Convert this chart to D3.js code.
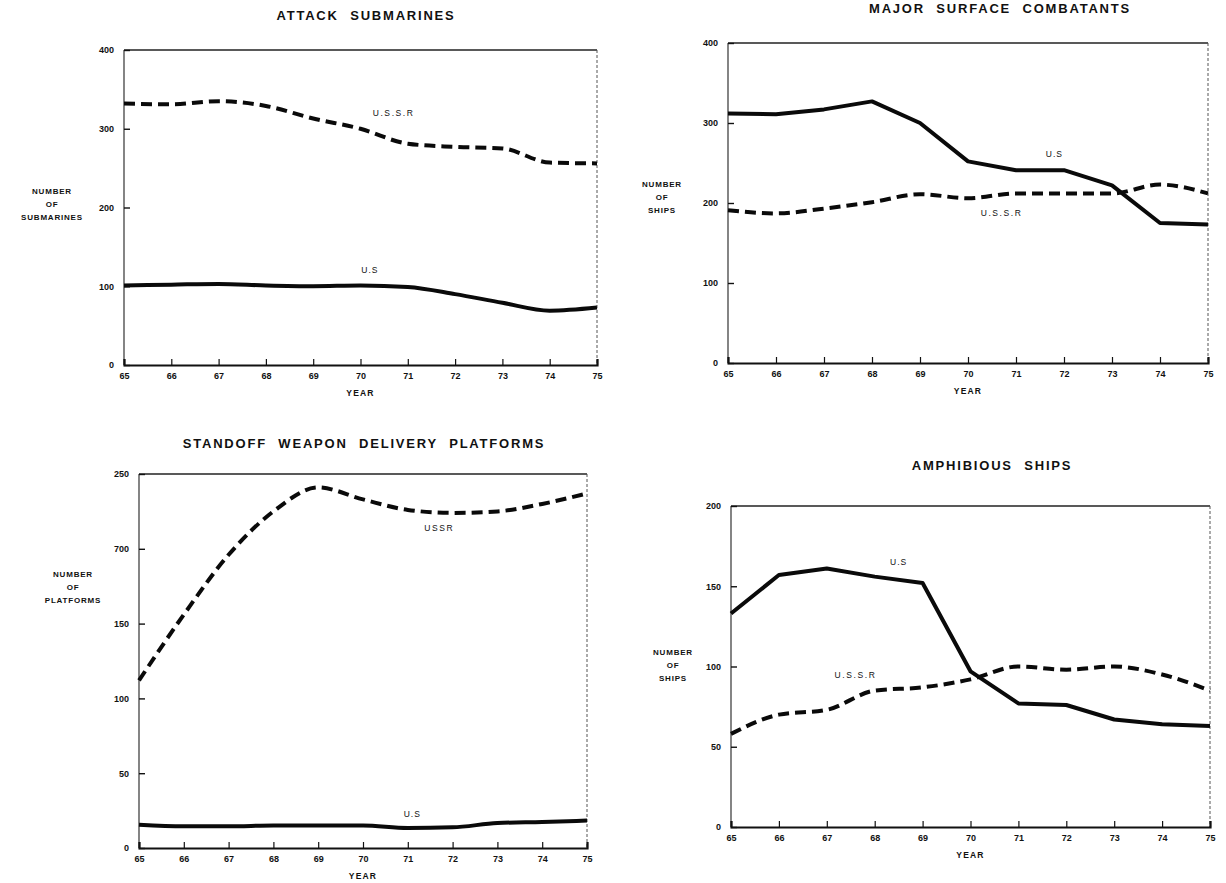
<!DOCTYPE html>
<html><head><meta charset="utf-8">
<script src="https://cdn.jsdelivr.net/npm/d3@7"></script>
<style>
body{margin:0;background:#fff;}
svg text{font-family:"Liberation Sans",Arial,sans-serif;fill:#111;}
</style></head>
<body><svg id="c" width="1226" height="883"></svg>
<script>
const years = [65,66,67,68,69,70,71,72,73,74,75];

const subTitle = "ATTACK SUBMARINES";
const subUS   = [101,102,103,101,100,101,99,90,79,69,73];
const subUSSR = [332,331,335,329,313,300,281,277,275,257,256];
const subTicks = [0,100,200,300,400];

const surfTitle = "MAJOR SURFACE COMBATANTS";
const surfUS   = [312,311,317,327,300,252,241,241,222,175,173];
const surfUSSR = [191,187,193,201,211,206,212,212,212,223,212];
const surfTicks = [0,100,200,300,400];

const sowTitle = "STANDOFF WEAPON DELIVERY PLATFORMS";
const sowUS   = [15.6,14.5,14.5,15,15,15,13.4,13.8,16.7,17.4,18.3];
const sowUSSR = [112,156,196,225,241,233,226,224,225,230,237];
const sowTicks = [0,50,100,150,200,250];
const sowTickLabels = ["0","50","100","150","700","250"];

const amphTitle = "AMPHIBIOUS SHIPS";
const amphUS   = [133,157,161,156,152,97,77,76,67,64,63];
const amphUSSR = [58,70,73,85,87,92,100,98,100,95,85];
const amphTicks = [0,50,100,150,200];

const svg = d3.select("#c");

function panel(cfg){
  const g = svg.append("g");
  const x = d3.scaleLinear().domain([65,75]).range([cfg.x0,cfg.x1]);
  const y = d3.scaleLinear().domain([0,cfg.ymax]).range([cfg.y0,cfg.y1]);
  // frame
  g.append("line").attr("x1",cfg.x0).attr("x2",cfg.x1).attr("y1",cfg.y1).attr("y2",cfg.y1)
    .attr("stroke","#222").attr("stroke-width",1.3);
  g.append("line").attr("x1",cfg.x1).attr("x2",cfg.x1).attr("y1",cfg.y1).attr("y2",cfg.y0)
    .attr("stroke","#555").attr("stroke-width",1).attr("stroke-dasharray","3,2");
  g.append("line").attr("x1",cfg.x0).attr("x2",cfg.x0).attr("y1",cfg.y1).attr("y2",cfg.y0)
    .attr("stroke","#333").attr("stroke-width",1.2);
  // axes
  const yAxis = d3.axisLeft(y).tickValues(cfg.ticks).tickSize(-6).tickPadding(10)
    .tickFormat((d,i)=> cfg.tickLabels ? cfg.tickLabels[i] : d);
  const ya = g.append("g").attr("transform",`translate(${cfg.x0},0)`).call(yAxis);
  ya.select(".domain").remove();
  ya.selectAll("line").attr("stroke","#111").attr("stroke-width",1.4);
  ya.selectAll("text").attr("font-size",9).attr("font-weight","bold").attr("fill","#111");
  const xAxis = d3.axisBottom(x).tickValues(years).tickSize(-6).tickPadding(8);
  const xa = g.append("g").attr("transform",`translate(0,${cfg.y0})`).call(xAxis);
  xa.select(".domain").attr("stroke","#111").attr("stroke-width",2.2);
  xa.selectAll("line").attr("stroke","#111").attr("stroke-width",1.2);
  xa.selectAll("text").attr("font-size",9).attr("font-weight","bold").attr("fill","#111");
  // title
  g.append("text").attr("x",cfg.tx).attr("y",cfg.ty).attr("text-anchor","middle")
    .attr("font-size",13).attr("font-weight","bold").attr("letter-spacing",1.8)
    .attr("word-spacing",6).text(cfg.title);
  // x title
  g.append("text").attr("x",(cfg.x0+cfg.x1)/2).attr("y",cfg.y0+31).attr("text-anchor","middle")
    .attr("font-size",8.5).attr("font-weight","bold").attr("letter-spacing",1.2).text("YEAR");
  // y title
  const yt = g.append("text").attr("text-anchor","middle").attr("font-size",8)
    .attr("letter-spacing",0.8).attr("font-weight","bold");
  cfg.ylab.forEach((s,i)=> yt.append("tspan").attr("x",cfg.ylx).attr("y",cfg.yly+i*13).text(s));
  // lines
  const data = (arr)=> years.map((yr,i)=>[yr,arr[i]]);
  const lineUS = d3.line().x(d=>x(d[0])).y(d=>y(d[1])).curve(cfg.usCurve);
  const lineSU = d3.line().x(d=>x(d[0])).y(d=>y(d[1])).curve(d3.curveMonotoneX);
  g.append("path").attr("d",lineUS(data(cfg.us))).attr("fill","none")
    .attr("stroke","#0a0a0a").attr("stroke-width",4).attr("stroke-linejoin","round");
  g.append("path").attr("d",lineSU(data(cfg.ussr))).attr("fill","none")
    .attr("stroke","#0a0a0a").attr("stroke-width",4).attr("stroke-dasharray","11,6");
  // series labels
  g.append("text").attr("x",x(cfg.usLab[0])).attr("y",y(cfg.usLab[1])).attr("text-anchor","middle")
    .attr("font-size",8.5).attr("letter-spacing",1).text(cfg.usText);
  g.append("text").attr("x",x(cfg.suLab[0])).attr("y",y(cfg.suLab[1])).attr("text-anchor","middle")
    .attr("font-size",8.5).attr("letter-spacing",1.6).text(cfg.suText);
}

panel({title:subTitle, tx:366, ty:20, x0:124, x1:597, y0:365, y1:50, ymax:400, ticks:subTicks,
  us:subUS, ussr:subUSSR, usCurve:d3.curveMonotoneX,
  ylab:["NUMBER","OF","SUBMARINES"], ylx:52, yly:194,
  usLab:[70.2,117], usText:"U.S", suLab:[70.7,316], suText:"U.S.S.R"});

panel({title:surfTitle, tx:1000, ty:13, x0:728, x1:1208, y0:363, y1:43, ymax:400, ticks:surfTicks,
  us:surfUS, ussr:surfUSSR, usCurve:d3.curveLinear,
  ylab:["NUMBER","OF","SHIPS"], ylx:662, yly:187,
  usLab:[71.8,257], usText:"U.S", suLab:[70.7,184], suText:"U.S.S.R"});

panel({title:sowTitle, tx:364, ty:448, x0:139, x1:587, y0:848, y1:474, ymax:250, ticks:sowTicks, tickLabels:sowTickLabels,
  us:sowUS, ussr:sowUSSR, usCurve:d3.curveMonotoneX,
  ylab:["NUMBER","OF","PLATFORMS"], ylx:73, yly:577,
  usLab:[71.1,21], usText:"U.S", suLab:[71.7,212], suText:"USSR"});

panel({title:amphTitle, tx:992, ty:470, x0:731, x1:1210, y0:827, y1:506, ymax:200, ticks:amphTicks,
  us:amphUS, ussr:amphUSSR, usCurve:d3.curveLinear,
  ylab:["NUMBER","OF","SHIPS"], ylx:673, yly:655,
  usLab:[68.5,163], usText:"U.S", suLab:[67.6,93], suText:"U.S.S.R"});
</script></body></html>
